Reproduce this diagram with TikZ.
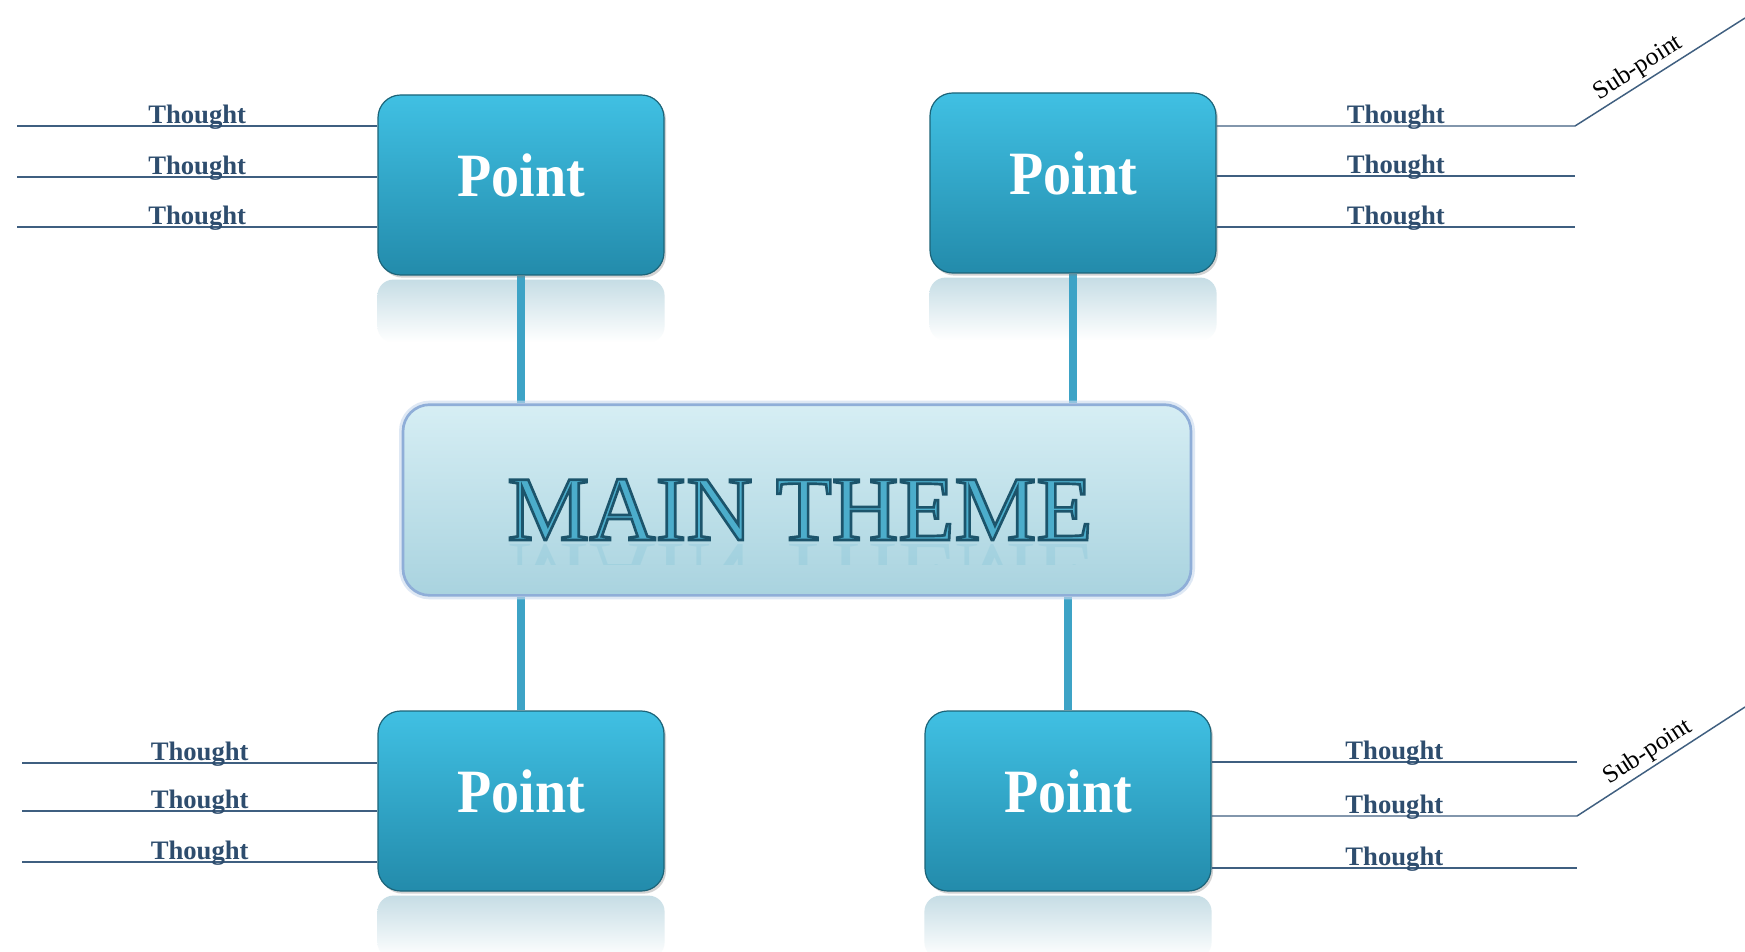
\documentclass[tikz,border=0pt]{standalone}
\usepackage{fontspec}
\usepackage{graphicx}
\setmainfont{Liberation Serif}
\usetikzlibrary{shadows,backgrounds}
\definecolor{ptop}{HTML}{40C0E3}
\definecolor{pbot}{HTML}{238BAB}
\definecolor{pborder}{HTML}{1C6479}
\definecolor{conn}{HTML}{3DA3C6}
\definecolor{tline}{HTML}{3F5F80}
\definecolor{ttext}{HTML}{2E4D6E}
\definecolor{mtop}{HTML}{D6EEF4}
\definecolor{mbot}{HTML}{A9D3DF}
\definecolor{mborder}{HTML}{8FAED8}
\definecolor{mglow}{HTML}{C9D9EE}
\definecolor{mtext}{HTML}{4CADCB}
\definecolor{refl}{HTML}{C6DDE5}
\tikzset{
  pointbox/.style={rectangle, rounded corners=17pt, minimum width=214.5pt, minimum height=135pt,
    top color=ptop, bottom color=pbot, draw=pborder, line width=0.9pt,
    drop shadow={opacity=0.35, shadow xshift=1.5pt, shadow yshift=-2pt},
    text=white, font=\fontsize{42}{42}\selectfont\bfseries},
  mainbox/.style={rectangle, rounded corners=20pt, minimum width=591pt, minimum height=143pt,
    top color=mtop, bottom color=mbot, draw=mborder, line width=2pt,
    preaction={draw=mglow, line width=6pt, opacity=0.6}},
  thought/.style={draw=tline, line width=1.1pt},
  tlabel/.style={anchor=base, yshift=2pt, inner sep=0pt, text=ttext, font=\fontsize{20}{20}\selectfont\bfseries},
  sublabel/.style={sloped, above, inner sep=2pt, text=black, font=\fontsize{19}{19}\selectfont},
  connector/.style={draw=conn, line width=5.5pt},
  reflection/.style={top color=refl, bottom color=white, draw=none, rounded corners=12pt},
  maintext/.style={anchor=base, inner sep=0pt, font=\fontsize{69}{69}\selectfont}
}
\newcommand{\ptext}{\raisebox{15pt}{\scalebox{1}[1.1]{Point}}}
\begin{document}
\begin{tikzpicture}[x=0.75pt,y=-0.75pt]
\useasboundingbox (0,0) rectangle (1745,952);

\node[pointbox] (pTL) at (521,185) {\ptext};
\node[pointbox] (pTR) at (1073,183) {\ptext};
\node[pointbox] (pBL) at (521,801) {\ptext};
\node[pointbox] (pBR) at (1068,801) {\ptext};
\node[mainbox] (main) at (797,500) {};

\node[maintext] (mt) at (800,540) {\color{mtext}\special{pdf:literal direct 2 Tr 2 w 0.11 0.33 0.42 RG}MAIN THEME\special{pdf:literal direct 0 Tr}};
\begin{scope}
  \clip (430,544) rectangle (1170,564);
  \node[maintext, opacity=0.14, text=mtext] (mtr) at (800,543) {\scalebox{1}[-1]{MAIN THEME}};
\end{scope}

\begin{scope}[on background layer]
  \fill[white] (0,0) rectangle (1745,952);
  \foreach \p in {pTL,pTR,pBL,pBR}{
    \shade[reflection] ([yshift=-3pt]\p.south west) rectangle ([yshift=-50pt]\p.south east);
  }
  \draw[connector] (pTL.south) -- (pTL.south |- main.north);
  \draw[connector] (pTR.south) -- (pTR.south |- main.north);
  \draw[connector] (pBL.north) -- (pBL.north |- main.south);
  \draw[connector] (pBR.north) -- (pBR.north |- main.south);
\end{scope}

% top-left thoughts
\foreach \y [count=\i] in {126,177,227}{
  \coordinate (tl\i) at (17,\y);
  \draw[thought] (tl\i) -- (tl\i -| pTL.west) node[tlabel, midway] {Thought};
}
% bottom-left thoughts
\foreach \y [count=\i] in {763,811,862}{
  \coordinate (bl\i) at (22,\y);
  \draw[thought] (bl\i) -- (bl\i -| pBL.west) node[tlabel, midway] {Thought};
}
% top-right thoughts
\coordinate (s1) at (1745,18);
\foreach \y [count=\i] in {126,176,227}{
  \coordinate (tr\i) at (1575,\y);
}
\draw[thought] (tr1 -| pTR.east) -- (tr1) node[tlabel, midway] {Thought}
  -- (s1) node[sublabel, pos=0.42] {Sub-point};
\draw[thought] (tr2 -| pTR.east) -- (tr2) node[tlabel, midway] {Thought};
\draw[thought] (tr3 -| pTR.east) -- (tr3) node[tlabel, midway] {Thought};
% bottom-right thoughts
\coordinate (s2) at (1745,707);
\foreach \y [count=\i] in {762,816,868}{
  \coordinate (br\i) at (1577,\y);
}
\draw[thought] (br1 -| pBR.east) -- (br1) node[tlabel, midway] {Thought};
\draw[thought] (br2 -| pBR.east) -- (br2) node[tlabel, midway] {Thought}
  -- (s2) node[sublabel, pos=0.47] {Sub-point};
\draw[thought] (br3 -| pBR.east) -- (br3) node[tlabel, midway] {Thought};
\end{tikzpicture}
\end{document}
